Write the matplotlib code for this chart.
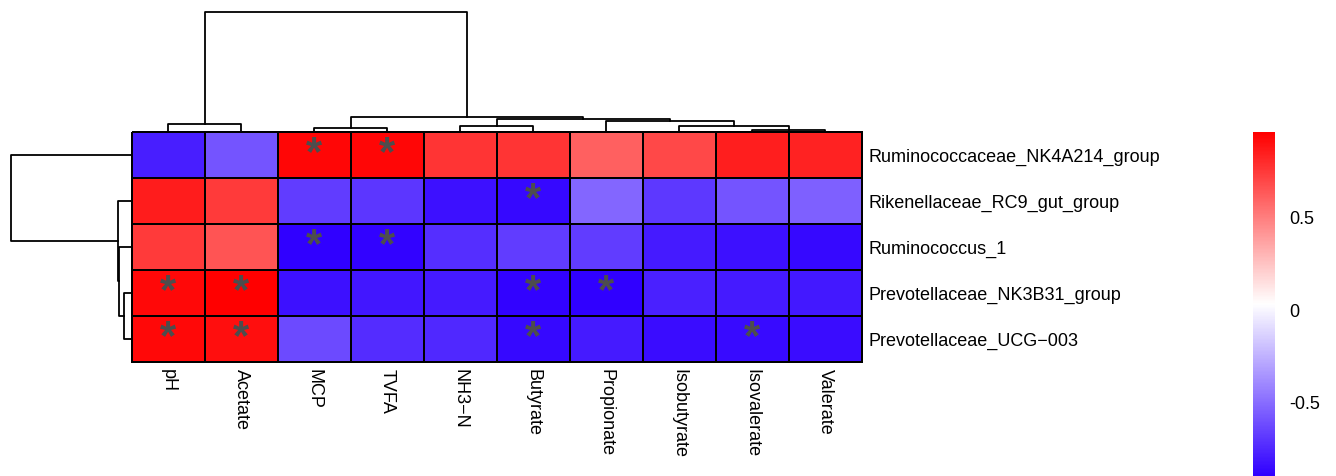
import numpy as np
import matplotlib.pyplot as plt
from matplotlib.colors import LinearSegmentedColormap

plt.rcParams['font.family'] = ['Liberation Sans', 'DejaVu Sans']

# genera (rows) and rumen fermentation traits (columns), in clustered order
rows = ["Ruminococcaceae_NK4A214_group", "Rikenellaceae_RC9_gut_group", "Ruminococcus_1",
        "Prevotellaceae_NK3B31_group", "Prevotellaceae_UCG\u2212003"]
cols = ["pH", "Acetate", "MCP", "TVFA", "NH3\u2212N", "Butyrate", "Propionate",
        "Isobutyrate", "Isovalerate", "Valerate"]

# Spearman correlation coefficients
corr = np.array([
    [-0.79, -0.59, 0.93, 0.93, 0.76, 0.76, 0.60, 0.69, 0.84, 0.83],
    [0.85, 0.74, -0.68, -0.70, -0.84, -0.87, -0.53, -0.69, -0.59, -0.55],
    [0.74, 0.65, -0.90, -0.89, -0.73, -0.68, -0.68, -0.80, -0.84, -0.87],
    [0.92, 0.955, -0.84, -0.82, -0.80, -0.89, -0.90, -0.78, -0.80, -0.81],
    [0.92, 0.90, -0.63, -0.74, -0.75, -0.87, -0.80, -0.85, -0.86, -0.85],
])

# significance marks (P < 0.05)
stars = [
    "  **      ",
    "     *    ",
    "  **      ",
    "**   **   ",
    "**   *  * ",
]

# hierarchical clustering merges: (left, right, height); new clusters numbered from n
col_links = [(8, 9, 2.0), (2, 3, 3.6), (4, 5, 5.4), (7, 10, 5.4), (0, 1, 7.8),
             (6, 13, 11.0), (12, 15, 12.8), (11, 16, 14.5), (14, 17, 119.5)]
row_links = [(3, 4, 7.0), (2, 5, 12.0), (1, 6, 13.5), (0, 7, 119.5)]

W, H = 1336, 477
fig = plt.figure(figsize=(W / 100, H / 100), dpi=100)


def px(l, t, r, b):
    return [l / W, 1 - b / H, (r - l) / W, (b - t) / H]


def draw_dendro(ax, links, n, top=True):
    pos = {i: i + 0.5 for i in range(n)}
    hgt = {i: 0.0 for i in range(n)}
    for k, (a, b, h) in enumerate(links):
        xs = [pos[a], pos[a], pos[b], pos[b]]
        ys = [hgt[a], h, h, hgt[b]]
        if top:
            ax.plot(xs, ys, color='black', lw=1.3, clip_on=False, solid_capstyle='projecting')
        else:
            ax.plot(ys, xs, color='black', lw=1.3, clip_on=False, solid_capstyle='projecting')
        pos[n + k] = (pos[a] + pos[b]) / 2
        hgt[n + k] = h
    ax.axis('off')


cmap = LinearSegmentedColormap.from_list('bwr_r', ['#3000FF', 'white', '#FF0000'])

ax_hm = fig.add_axes(px(131.5, 132.5, 861.5, 362.5))
mesh = ax_hm.pcolormesh(corr, cmap=cmap, vmin=corr.min(), vmax=corr.max(),
                        edgecolors='black', linewidth=1.4)
mesh.set_clip_on(False)
ax_hm.set_xlim(0, len(cols))
ax_hm.set_ylim(len(rows), 0)
for s in ax_hm.spines.values():
    s.set_visible(False)

for i, line in enumerate(stars):
    for j, ch in enumerate(line):
        if ch == '*':
            ax_hm.text(j + 0.5, i + 0.47, '*', ha='center', va='center',
                       fontsize=30, fontweight='bold', color='#4D4D4D')

ax_hm.set_xticks(np.arange(len(cols)) + 0.5)
ax_hm.set_xticklabels(cols, rotation=270, fontsize=13)
ax_hm.yaxis.tick_right()
ax_hm.set_yticks(np.arange(len(rows)) + 0.5)
ax_hm.set_yticklabels(rows, fontsize=13)
ax_hm.tick_params(axis='x', length=0, pad=5)
ax_hm.tick_params(axis='y', length=0, pad=5)

# column dendrogram
ax_top = fig.add_axes(px(131.5, 13, 861.5, 132.5))
draw_dendro(ax_top, col_links, len(cols), top=True)
ax_top.set_xlim(0, len(cols))
ax_top.set_ylim(0, max(h for _, _, h in col_links))

# row dendrogram
ax_left = fig.add_axes(px(11, 132.5, 131.5, 362.5))
draw_dendro(ax_left, row_links, len(rows), top=False)
ax_left.set_ylim(len(rows), 0)
ax_left.set_xlim(max(h for _, _, h in row_links), 0)

# colour legend
ax_cb = fig.add_axes(px(1253, 133.3, 1275, 476.7))
cb = fig.colorbar(mesh, cax=ax_cb, ticks=[-0.5, 0, 0.5])
cb.outline.set_visible(False)
cb.ax.set_yticklabels(['-0.5', '0', '0.5'])
cb.ax.tick_params(length=0, labelsize=13, pad=10)

fig.savefig('out.png', dpi=100)
